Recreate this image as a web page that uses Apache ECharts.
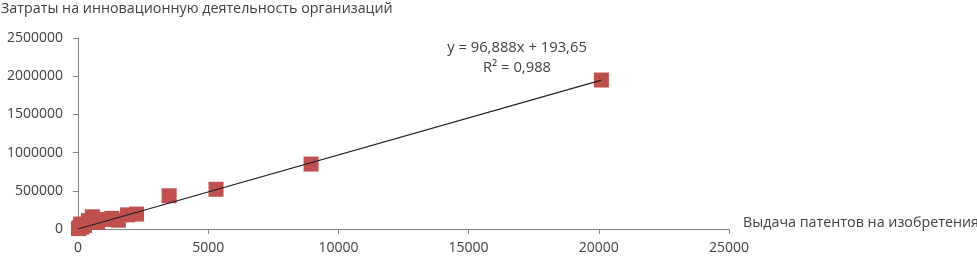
<!DOCTYPE html>
<html><head><meta charset="utf-8">
<script src="https://cdn.jsdelivr.net/npm/echarts@6/dist/echarts.min.js"></script>
<style>html,body{margin:0;padding:0;background:#fff}#c{width:977px;height:256px}</style>
</head><body><div id="c"></div>
<script>
const patents = [20100, 8950, 5300, 3500, 2250, 1900, 1550, 1300, 1000, 750, 550, 400, 250, 150, 100, 50, 20];
const costs   = [1950000, 850000, 520000, 435000, 195000, 185000, 115000, 140000, 125000, 85000, 160000, 110000, 45000, 25000, 65000, 15000, 5000];
const trendCoef = [96.888, 193.65];
const eqText = ['y = 96,888x + 193,65', 'R² = 0,988'];
const xTicks = [0, 5000, 10000, 15000, 20000, 25000];
const yTicks = [0, 500000, 1000000, 1500000, 2000000, 2500000];

const pts = patents.map((x, i) => [x, costs[i]]);
const xmin = 0, xmax = Math.max(...patents);
const trend = [[xmin, trendCoef[0]*xmin + trendCoef[1]], [xmax, trendCoef[0]*xmax + trendCoef[1]]];
const font = '"Open Sans", sans-serif';
const chart = echarts.init(document.getElementById('c'));
chart.setOption({
  animation: false,
  title: { text: 'Затраты на инновационную деятельность организаций', left: -4, top: -3,
    textStyle: { fontFamily: font, fontSize: 14.3, fontWeight: 'normal', color: '#404040' } },
  grid: { left: 78, right: 248, top: 38, bottom: 27, containLabel: false, outerBoundsMode: 'none' },
  xAxis: { type: 'value', min: xTicks[0], max: xTicks[xTicks.length-1], interval: 5000,
    name: 'Выдача патентов на изобретения', nameLocation: 'end', nameGap: 14,
    nameTextStyle: { fontFamily: font, fontSize: 14.3, color: '#404040', verticalAlign: 'bottom', lineHeight: 13 },
    axisLine: { show: true, lineStyle: { color: '#868686' } },
    axisTick: { show: true, length: 5, lineStyle: { color: '#868686' } },
    axisLabel: { fontFamily: font, fontSize: 14, color: '#404040', margin: 12, formatter: v => String(v) },
    splitLine: { show: false } },
  yAxis: { type: 'value', min: yTicks[0], max: yTicks[yTicks.length-1], interval: 500000,
    axisLine: { show: true, lineStyle: { color: '#868686' } },
    axisTick: { show: true, length: 5, lineStyle: { color: '#868686' } },
    axisLabel: { fontFamily: font, fontSize: 14, color: '#404040', margin: 15, formatter: v => String(v) },
    splitLine: { show: false } },
  series: [
    { type: 'scatter', data: pts, symbol: 'rect', symbolSize: 15,
      itemStyle: { color: '#C0504D', opacity: 1 }, z: 2 },
    { type: 'line', data: trend, symbol: 'none', lineStyle: { color: '#222', width: 1.2 }, z: 3 }
  ],
  graphic: [
    { type: 'text', x: 517, y: 48, style: { text: eqText[0], fontFamily: font, fontSize: 14.8, fill: '#404040', align: 'center', verticalAlign: 'middle' } },
    { type: 'text', x: 517, y: 68, style: { text: eqText[1], fontFamily: font, fontSize: 14.8, fill: '#404040', align: 'center', verticalAlign: 'middle' } }
  ]
});
</script></body></html>
